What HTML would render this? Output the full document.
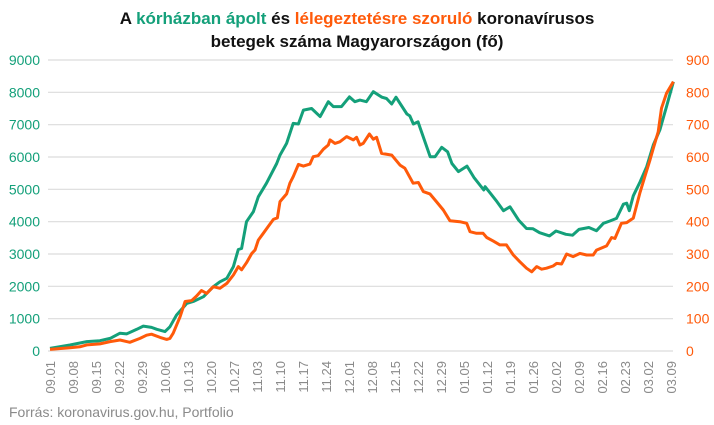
<!DOCTYPE html>
<html><head><meta charset="utf-8"><style>
body{margin:0;background:#fff;}
svg{display:block;font-family:"Liberation Sans",sans-serif;}
</style></head><body>
<svg id="chart" width="714" height="425">
<text x="357" y="24" text-anchor="middle" font-size="17" font-weight="bold" fill="#111">A <tspan fill="#14a07a">kórházban ápolt</tspan> és <tspan fill="#ff5a0a">lélegeztetésre szoruló</tspan> koronavírusos</text>
<text x="357" y="47" text-anchor="middle" font-size="17" font-weight="bold" fill="#111">betegek száma Magyarországon  (fő)</text>
<g id="grid"></g><g id="yl"></g><g id="yr"></g><g id="xl"></g><g id="lines"></g>
<text x="9" y="417" font-size="14" fill="#8a8a8a">Forrás: koronavirus.gov.hu, Portfolio</text>
</svg>
<script>
const leftTicks=[0,1000,2000,3000,4000,5000,6000,7000,8000,9000];
const rightTicks=[0,100,200,300,400,500,600,700,800,900];
const xTickLabels=["09.01","09.08","09.15","09.22","09.29","10.06","10.13","10.20","10.27","11.03","11.10","11.17","11.24","12.01","12.08","12.15","12.22","12.29","01.05","01.12","01.19","01.26","02.02","02.09","02.16","02.23","03.02","03.09"];
const hospDays=[0,6.1,11.2,15.2,18.3,21.3,23.3,26.4,28.4,30.9,32.5,35,36.5,38.5,41.6,43.6,46.7,49.7,51.7,53.8,55.8,57.3,58.3,59.8,61.9,63.4,65.9,69,70,72,74,75.6,77.1,79.6,82.2,84.7,86.2,88.7,91.1,92.8,94.3,96.3,98.4,101,102.4,104,105.3,108.6,109.5,110.6,112,115.7,117.2,119.2,121,122.3,124.3,126.9,129,132,132.4,134,136,138,140,142.6,145,147,149,152,154,157,159,161,164,166.3,168.4,170.4,172.4,174.5,175.5,176.3,177.5,179.6,181.6,183.6,185.6,187.6,189.7];
const hospVals=[80,185,290,320,390,550,530,670,770,730,670,600,750,1110,1470,1530,1680,1990,2140,2250,2610,3140,3170,4000,4310,4770,5190,5800,6060,6420,7040,7020,7450,7500,7250,7710,7560,7560,7860,7710,7760,7710,8020,7850,7810,7640,7850,7330,7270,7020,7090,6010,6010,6300,6160,5800,5550,5720,5370,4980,5080,4880,4620,4340,4460,4050,3790,3780,3660,3560,3710,3610,3580,3760,3820,3720,3950,4020,4100,4540,4570,4340,4800,5240,5700,6370,6840,7560,8330];
const ventZ1=[150,210,240,260,300,330,360,390,420,440,455,480,500,510,520,540,555,575,590,605,620,640,660,680,700,715,725,740,755,765,775,790,805,820,832,840,860,870,880,895,910,930,940,955,970,985,990,1005,1020,1040,1060,1070];
const ventZ2=[0,10,28,40,50,65,95,120,135,160,175,190,210,230,250,270,300,320,330,350,370,380,400,420,440,460,480,500,515,530,545,560,580,590,605,620,640,660,680,700,710,740,755,765,785,800,820,840,855,870,880,895,905,920,940];
const ventDays=ventZ1.map(z=>+((z-150)/9.86).toFixed(1)).concat(ventZ2.map(z=>+((930+z)/9.86).toFixed(1)));
const ventVals=[5,10,13,19,22,29,34,27,39,49,52,42,36,39,55,106,153,156,170,187,178,199,194,209,235,261,251,273,302,312,343,364,385,407,412,462,486,519,539,577,572,578,601,604,624,637,653,642,647,663,653,661,
637,642,671,655,661,611,606,575,565,519,521,493,486,462,436,403,400,395,369,364,364,351,340,328,328,297,276,256,245,261,253,256,263,271,269,300,292,302,297,297,312,325,351,348,395,397,411,488,539,591,627,678,751,797,833];
const X0=50,PX=3.286,Y0=351,YS=291/9000;
const xs=d=>X0+d*PX, yl=v=>Y0-v*YS, yr=v=>Y0-v*10*YS;
const NS="http://www.w3.org/2000/svg";
function mk(tag,parent,attrs,txt){const e=document.createElementNS(NS,tag);for(const k in attrs)e.setAttribute(k,attrs[k]);if(txt!==undefined)e.textContent=txt;document.getElementById(parent).appendChild(e);return e;}
leftTicks.forEach((t,i)=>{
 const g=mk('line','grid',{x1:48,x2:673,y1:yl(t),y2:yl(t),stroke:'#dcdcdc','stroke-width':1.2});
 
 
 const a=mk('text','yl',{x:40,y:yl(t)+5,'text-anchor':'end','font-size':14,fill:'#14a07a'},t);
 
 
 const b=mk('text','yr',{x:686,y:yr(rightTicks[i])+5,'font-size':14,fill:'#ff5a0a'},rightTicks[i]);
 
 
});
xTickLabels.forEach((l,i)=>{
 const x=xs(i*7);
 const t=mk('text','xl',{x:0,y:0,'text-anchor':'end','font-size':13,fill:'#8a8a8a',transform:`translate(${x+5},${361}) rotate(-90)`},l);
 
 
});
function line(days,vals,f,col,name){
 const d=days.map((dd,i)=>(i?'L':'M')+xs(dd).toFixed(1)+','+f(vals[i]).toFixed(1)).join('');
 const p=mk('path','lines',{d:d,fill:'none',stroke:col,'stroke-width':3,'stroke-linejoin':'round'});
 
 
}
line(hospDays,hospVals,yl,'#14a07a','hospitalized-line');
line(ventDays,ventVals,yr,'#ff5a0a','ventilated-line');
</script>
</body></html>
